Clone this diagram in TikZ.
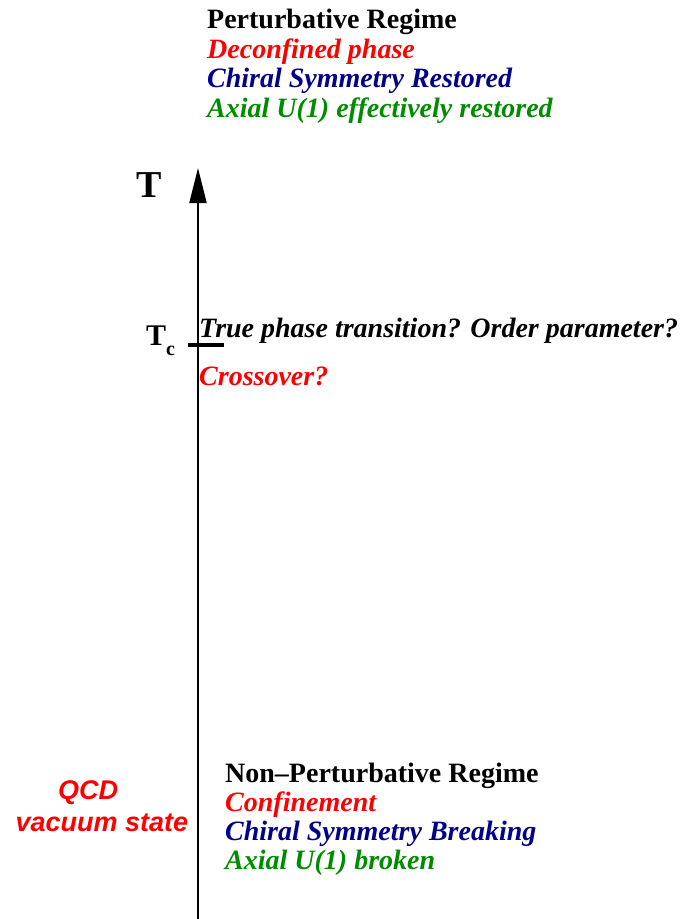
\documentclass[tikz,border=0pt]{standalone}
\usepackage{fontspec}
\setmainfont{Liberation Serif}
\newfontfamily\qcdfont{Liberation Sans}
\usepackage{xcolor}
\usetikzlibrary{arrows.meta}

\definecolor{figred}{RGB}{255,0,0}
\definecolor{figblue}{RGB}{0,0,140}
\definecolor{figgreen}{RGB}{0,140,0}

\begin{document}
\begin{tikzpicture}[
    x=1pt, y=-1pt,
    regimelabel/.style={anchor=base west, inner sep=0pt, font=\fontsize{28}{30}\selectfont\bfseries},
    phaselabel/.style={anchor=base west, inner sep=0pt, font=\fontsize{28}{30}\selectfont\bfseries\itshape},
    axislabel/.style={anchor=base west, inner sep=0pt, font=\fontsize{38}{40}\selectfont\bfseries},
    vacuumlabel/.style={anchor=base, inner sep=0pt, text=figred, font=\qcdfont\fontsize{27}{30}\selectfont\bfseries\itshape},
    axisarrow/.style={-{Triangle[length=35pt, width=17pt]}, line width=2pt},
    tcmark/.style={line width=4pt}
]
\useasboundingbox (0,0) rectangle (688,919);

% Temperature axis
\coordinate (axisbot) at (198,919);
\coordinate (axistop) at (198,168);
\draw[axisarrow] (axisbot) -- (axistop);
\node[axislabel] (tlabel) at (136,197) {T};

% Critical temperature mark
\coordinate (tcleft) at (188,345);
\coordinate (tcright) at (224,345);
\draw[tcmark] (tcleft) -- (tcright);
\node[axislabel, font=\fontsize{30}{32}\selectfont\bfseries] (tclabel) at (146,345) {T\raisebox{-10pt}{\fontsize{20}{20}\selectfont c}};
\node[phaselabel] (transition) at (199,337) {True phase transition? Order parameter?};
\node[phaselabel, text=figred] (crossover) at (199,385) {Crossover?};

% High temperature side
\node[regimelabel] (pert) at (207,28) {Perturbative Regime};
\node[phaselabel, text=figred] (deconf) at (207,58) {Deconfined phase};
\node[phaselabel, text=figblue] (chiralrest) at (207,87) {Chiral Symmetry Restored};
\node[phaselabel, text=figgreen] (axialrest) at (207,117) {Axial U(1) effectively restored};

% Low temperature side
\node[regimelabel] (nonpert) at (225,782) {Non{\textendash}Perturbative Regime};
\node[phaselabel, text=figred] (conf) at (225,811) {Confinement};
\node[phaselabel, text=figblue] (chiralbreak) at (225,840) {Chiral Symmetry Breaking};
\node[phaselabel, text=figgreen] (axialbroken) at (225,869) {Axial U(1) broken};

\node[vacuumlabel] (qcd) at (88,799) {QCD};
\node[vacuumlabel] (vacuum) at (102,831) {vacuum state};

\end{tikzpicture}
\end{document}
